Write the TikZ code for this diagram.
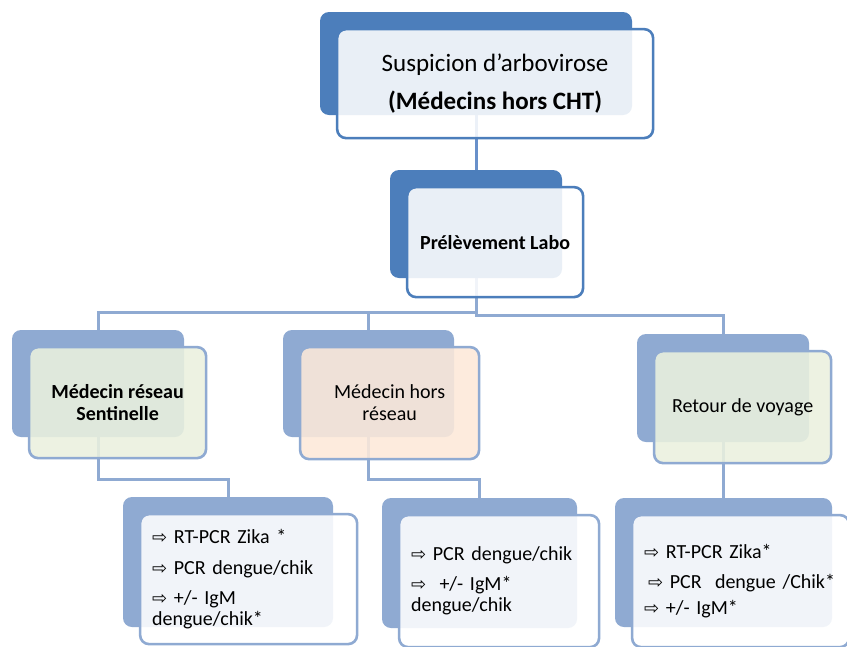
\documentclass[tikz,border=0pt]{standalone}
\usepackage{fontspec}
\setmainfont{Carlito}
\newfontfamily\symfont{DejaVu Sans}
\usetikzlibrary{positioning,calc,backgrounds}
\definecolor{darkBlue}{RGB}{76,126,187}
\definecolor{midBlue}{RGB}{104,144,202}
\definecolor{shadeBlue}{RGB}{143,170,210}
\definecolor{sentGreen}{RGB}{235,241,222}
\definecolor{horsPeach}{RGB}{253,233,217}
\newcommand{\testarrow}{{\symfont\fontsize{18}{18}\selectfont ⇨}}
\tikzset{
    backbox/.style={rectangle, rounded corners=9pt, draw=none},
    frontbox/.style={rectangle, rounded corners=9pt, line width=2.6pt,
        fill opacity=0.88, text opacity=1, align=center, inner sep=4pt,
        anchor=north west},
    lvlbox/.style={frontbox, draw=shadeBlue, font=\fontsize{20}{22}\selectfont},
    testbox/.style={frontbox, draw=shadeBlue, fill=white, align=left,
        inner xsep=12pt, font=\fontsize{20}{21}\selectfont},
    conn/.style={line width=3pt, shadeBlue},
}

\begin{document}
\begin{tikzpicture}[x=1pt,y=-1pt]
\useasboundingbox (0,0) rectangle (847,646);

% Top level
\node[backbox, fill=darkBlue, minimum width=312pt, minimum height=103pt] (susp-b) at (476,63.5) {};
\node[frontbox, draw=darkBlue, fill=white, minimum width=316pt, minimum height=109pt,
    font=\fontsize{25}{30}\selectfont] at ($(susp-b.north west)+(16,16)$) (susp)
    {Suspicion d’arbovirose\\[8pt]\textbf{(Médecins hors CHT)}};

% Sampling
\node[backbox, fill=darkBlue, minimum width=172pt, minimum height=108pt] (labo-b) at (476,224) {};
\node[frontbox, draw=darkBlue, fill=white, minimum width=176pt, minimum height=110pt,
    font=\fontsize{20}{22}\selectfont] at ($(labo-b.north west)+(16,16)$) (labo)
    {\textbf{Prélèvement Labo}};

% Second level
\node[backbox, fill=shadeBlue, minimum width=172pt, minimum height=107pt] (sent-b) at (98,383.5) {};
\node[lvlbox, fill=sentGreen, minimum width=177pt, minimum height=111pt]
    at ($(sent-b.north west)+(16,16)$) (sent)
    {\textbf{Médecin réseau}\\\textbf{Sentinelle}};

\node[backbox, fill=shadeBlue, minimum width=171pt, minimum height=107pt] (hors-b) at (368.5,383.5) {};
\node[lvlbox, fill=horsPeach, minimum width=179pt, minimum height=112pt]
    at ($(hors-b.north west)+(16,16)$) (hors)
    {Médecin hors\\réseau};

\node[backbox, fill=shadeBlue, minimum width=172pt, minimum height=108pt] (voy-b) at (723,388) {};
\node[lvlbox, fill=sentGreen, minimum width=177pt, minimum height=112pt]
    at ($(voy-b.north west)+(16,16)$) (voy)
    {Retour de voyage};

% Tests
\node[backbox, fill=shadeBlue, minimum width=210pt, minimum height=130pt] (test1-b) at (228,562) {};
\node[testbox, text width=193pt, minimum height=130pt]
    at ($(test1-b.north west)+(16,16)$) (test1)
    {\testarrow~RT-PCR Zika *\\[10pt]\testarrow~PCR dengue/chik\\[9pt]\testarrow~+/- IgM\\dengue/chik*};

\node[backbox, fill=shadeBlue, minimum width=195pt, minimum height=130pt] (test2-b) at (479.5,563) {};
\node[testbox, text width=176pt, minimum height=132pt]
    at ($(test2-b.north west)+(16,16)$) (test2)
    {\testarrow~PCR dengue/chik\\[9pt]\testarrow~\ +/- IgM*\\dengue/chik};

\node[backbox, fill=shadeBlue, minimum width=217pt, minimum height=129pt] (test3-b) at (723.5,562.5) {};
\node[testbox, text width=193pt, minimum height=132pt]
    at ($(test3-b.north west)+(16,16)$) (test3)
    {\testarrow~RT-PCR Zika*\\[9pt]\hspace*{4pt}\testarrow~PCR\ \ dengue /Chik*\\[5pt]\testarrow~+/- IgM*};

% Connectors
\begin{scope}[on background layer]
\fill[white] (0,0) rectangle (847,646);
\draw[conn, midBlue] (susp-b.south) -- (labo-b.north);
\draw[conn] (labo-b.south) -- ++(0,34) -| (sent-b.north);
\draw[conn] (labo-b.south) -- ++(0,34) -| (hors-b.north);
\draw[conn] (labo-b.south) -- ++(0,37) -| (voy-b.north);
\draw[conn] (sent-b.south) -- ++(0,42) -| (test1-b.north);
\draw[conn] (hors-b.south) -- ++(0,42) -| (test2-b.north);
\draw[conn] (voy-b.south) -- (voy-b.south |- test3-b.north);
\end{scope}

\end{tikzpicture}
\end{document}
